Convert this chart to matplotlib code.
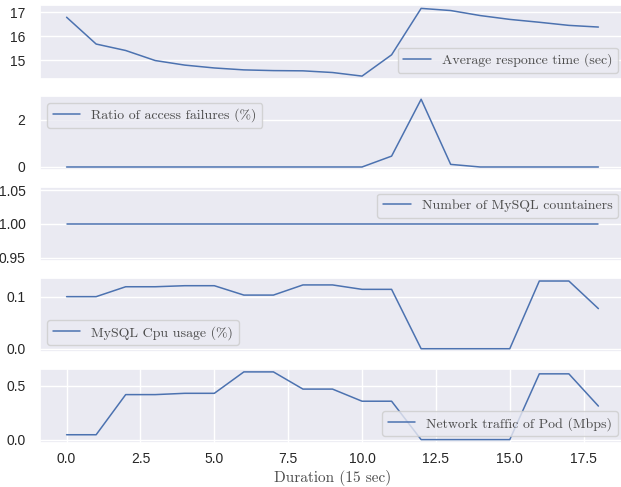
import numpy as np
import matplotlib
matplotlib.use("Agg")
import matplotlib.pyplot as plt
import seaborn as sns

# time steps (one step = 15 sec)
steps = list(range(19))

response_time = [16.79, 15.67, 15.40, 14.98, 14.79, 14.67, 14.59, 14.56, 14.55, 14.48,
                 14.33, 15.22, 17.16, 17.07, 16.86, 16.70, 16.58, 16.45, 16.38]
failure_ratio = [0, 0, 0, 0, 0, 0, 0, 0, 0, 0,
                 0, 0.46, 2.87, 0.11, 0, 0, 0, 0, 0]
mysql_containers = [1] * 19
mysql_cpu = [0.100, 0.100, 0.119, 0.119, 0.121, 0.121, 0.103, 0.103, 0.1225, 0.1225,
             0.114, 0.114, 0.0, 0.0, 0.0, 0.0, 0.130, 0.130, 0.077]
pod_traffic = [0.045, 0.045, 0.416, 0.416, 0.428, 0.428, 0.626, 0.626, 0.467, 0.467,
               0.355, 0.355, 0.0, 0.0, 0.0, 0.0, 0.608, 0.608, 0.31]

series = [
    (response_time, "Average responce time (sec)", "lower right"),
    (failure_ratio, "Ratio of access failures (%)", "upper left"),
    (mysql_containers, "Number of MySQL countainers", "upper right"),
    (mysql_cpu, "MySQL Cpu usage (%)", "lower left"),
    (pod_traffic, "Network traffic of Pod (Mbps)", "lower right"),
]

sns.set_theme(style="darkgrid")
plt.rcParams["font.family"] = ["Liberation Sans", "DejaVu Sans"]
serif = {"family": "cmr10", "size": 10}

fig, axes = plt.subplots(5, 1, figsize=(6.21, 4.87), dpi=100)
fig.subplots_adjust(left=40 / 621, right=625 / 621, top=1 - 5 / 487,
                    bottom=1 - 443 / 487, hspace=0.22)

for i, (vals, name, loc) in enumerate(series):
    ax = axes[i]
    ax.plot(steps, vals, color="#4C72B0", lw=1.1, label=name)
    leg = ax.legend(loc=loc, prop=serif)
    for t in leg.get_texts():
        t.set_color("0.3")
    if i < 4:
        ax.set_xticks([])
    ax.tick_params(axis="y", labelsize=10, colors="0.15", pad=4.5)
    ax.tick_params(axis="x", labelsize=10, colors="0.15", pad=0.5)

axes[4].set_xlabel("Duration (15 sec)", fontdict={"family": "cmr10", "size": 11},
                   color="0.3", labelpad=3)

plt.savefig("out.png")
